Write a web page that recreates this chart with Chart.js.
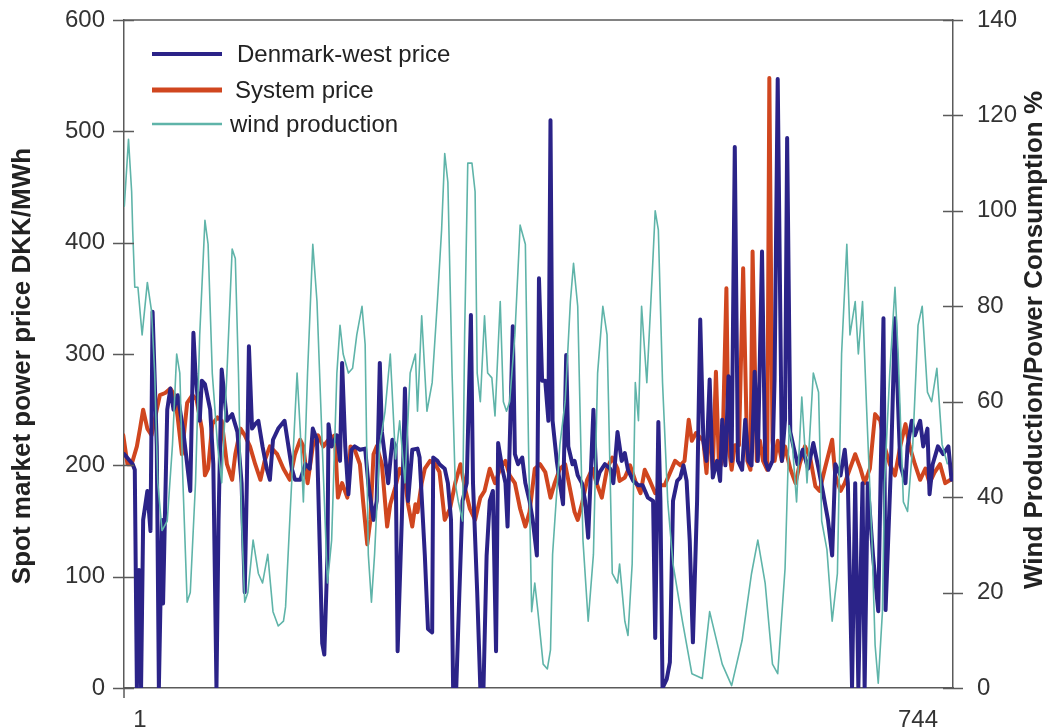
<!DOCTYPE html>
<html>
<head>
<meta charset="utf-8">
<title>Spot market price and wind production</title>
<script src="https://cdn.jsdelivr.net/npm/chart.js@4.4.1/dist/chart.umd.min.js"></script>
<style>
  html, body { margin: 0; padding: 0; background: #fff; }
  #wrap { width: 1048px; height: 727px; }
</style>
</head>
<body>
<div id="wrap"><canvas id="chart" width="1048" height="727"></canvas></div>
<script>
// ===== DATA (hour of month, value) =====
const xTickLabels = [1, 744];
const xMin = -14.3;
const xMax = 777.4;

// Denmark-west spot price, DKK/MWh
const dkWest = [
  [-14,210],[-6,201],[-4,196],[-2,0],[0,106],[2,0],[4,151],[8,177],[11,141],[13,338],
  [17,217],[19,0],[22,151],[23,76],[27,250],[30,269],[33,250],[37,263],[42,233],[46,201],
  [49,177],[52,319],[54,282],[58,240],[60,276],[63,273],[68,250],[71,201],[74,0],[76,151],
  [79,286],[84,240],[89,246],[94,230],[98,184],[101,86],[103,184],[105,307],[108,233],[111,237],
  [114,240],[118,217],[122,197],[125,187],[128,223],[133,233],[139,240],[146,197],[149,187],[154,187],
  [159,201],[163,197],[166,233],[170,223],[175,40],[177,30],[180,119],[181,237],[184,217],[189,227],
  [192,204],[194,292],[197,217],[200,174],[203,214],[206,217],[211,214],[216,215],[219,184],[224,151],
  [227,168],[230,292],[232,230],[235,207],[238,184],[242,223],[245,217],[247,33],[251,151],[254,269],
  [257,168],[261,214],[266,215],[268,207],[273,119],[276,53],[280,50],[281,207],[285,204],[287,201],
  [292,197],[295,184],[298,151],[300,0],[303,0],[306,86],[309,168],[313,184],[317,335],[319,184],
  [323,86],[326,0],[329,0],[332,119],[335,168],[338,177],[341,33],[343,220],[347,197],[350,184],
  [352,145],[357,325],[359,210],[362,201],[366,207],[369,184],[373,168],[376,151],[380,119],[382,368],
  [385,276],[388,276],[391,240],[393,510],[395,240],[399,204],[402,184],[405,165],[408,299],[410,217],
  [414,201],[416,204],[419,191],[423,184],[426,168],[429,135],[434,250],[437,184],[440,194],[445,201],
  [450,197],[453,184],[457,230],[461,204],[464,211],[467,196],[472,186],[477,182],[481,182],[486,171],
  [491,168],[493,45],[496,239],[498,168],[500,0],[504,8],[507,23],[510,168],[514,186],[517,189],
  [520,200],[523,186],[526,132],[529,41],[533,168],[536,331],[539,222],[542,204],[545,277],[548,189],
  [552,204],[555,186],[557,241],[560,200],[563,280],[566,204],[569,486],[572,204],[576,196],[579,241],
  [582,204],[585,200],[588,284],[591,204],[595,392],[598,204],[601,196],[605,204],[607,277],[610,547],
  [614,204],[617,241],[619,494],[622,230],[625,217],[629,201],[634,214],[639,197],[644,220],[649,197],
  [653,177],[658,151],[662,119],[665,201],[670,191],[674,214],[677,184],[681,0],[684,184],[687,0],
  [691,184],[693,0],[696,184],[701,119],[706,69],[711,332],[713,70],[718,196],[722,332],[727,201],
  [732,184],[734,217],[738,240],[741,227],[746,240],[749,217],[753,233],[755,174],[758,201],[763,217],
  [768,210],[773,217],[776,187]
];

// Nord Pool system price, DKK/MWh
const systemPrice = [
  [-15,227],[-11,201],[-7,201],[-2,217],[1,233],[4,250],[8,233],[12,227],[17,250],[20,263],
  [25,265],[30,269],[34,263],[37,243],[41,210],[46,256],[51,263],[55,259],[60,233],[63,191],
  [66,197],[70,237],[75,243],[79,240],[84,201],[89,187],[92,210],[97,233],[101,227],[106,217],
  [111,201],[116,187],[120,204],[125,217],[132,210],[138,197],[144,187],[149,210],[154,223],[157,217],
  [161,184],[166,217],[171,227],[176,217],[181,223],[187,227],[190,171],[194,184],[199,171],[202,217],
  [206,214],[211,201],[214,168],[218,129],[221,151],[224,210],[227,217],[232,201],[237,145],[240,165],
  [245,181],[249,197],[254,187],[257,165],[261,145],[264,165],[266,158],[270,184],[273,197],[278,204],
  [283,201],[287,194],[292,151],[297,161],[302,184],[307,201],[311,181],[316,161],[321,151],[326,171],
  [330,177],[335,197],[340,184],[345,197],[350,204],[354,191],[359,184],[364,161],[369,145],[373,158],
  [378,197],[383,201],[388,194],[393,171],[397,184],[402,197],[407,201],[412,177],[416,158],[419,151],
  [423,165],[428,187],[433,197],[437,184],[442,171],[447,197],[452,207],[457,197],[459,186],[464,189],
  [469,200],[474,186],[479,175],[483,196],[488,186],[493,175],[498,182],[502,182],[507,193],[512,204],
  [517,200],[521,204],[525,241],[528,222],[532,229],[536,225],[539,222],[542,193],[545,241],[548,196],
  [551,284],[554,196],[557,204],[561,359],[563,218],[566,196],[569,218],[573,218],[577,377],[581,204],
  [584,196],[586,392],[590,204],[593,222],[596,204],[600,196],[602,548],[605,222],[607,204],[610,222],
  [614,204],[617,217],[622,197],[627,184],[631,201],[636,217],[641,207],[646,181],[650,177],[655,197],
  [662,223],[665,191],[670,177],[674,184],[679,197],[684,210],[689,197],[693,184],[698,197],[703,246],
  [708,240],[712,217],[717,201],[722,191],[727,217],[732,237],[736,217],[741,201],[746,187],[751,197],
  [755,184],[760,194],[765,201],[770,184],[775,187]
];

// Wind production as % of power consumption
const windShare = [
  [-14,101],[-10,115],[-7,104],[-6,96],[-4,84],[-1,84],[3,74],[8,85],[12,79],[15,66],
  [18,43],[22,33],[27,35],[32,51],[36,70],[39,66],[42,43],[46,18],[49,20],[54,43],
  [58,74],[63,98],[66,93],[70,66],[75,51],[79,43],[84,66],[89,92],[92,90],[95,66],
  [98,35],[101,18],[104,20],[109,31],[114,24],[118,22],[123,28],[128,16],[133,13],[138,14],
  [140,17],[144,35],[151,66],[154,54],[157,39],[161,66],[166,93],[170,81],[175,51],[180,22],
  [184,31],[189,66],[192,76],[195,70],[200,66],[204,67],[208,74],[213,80],[216,72],[219,28],
  [222,18],[225,28],[230,51],[235,58],[240,70],[245,48],[249,56],[254,43],[259,66],[264,70],
  [266,58],[270,78],[275,58],[280,64],[285,81],[289,96],[292,112],[295,106],[299,66],[302,43],
  [305,39],[309,35],[311,74],[314,110],[318,110],[321,104],[323,66],[326,60],[330,78],[333,66],
  [337,65],[340,57],[345,81],[348,60],[351,58],[354,60],[359,74],[364,97],[369,93],[372,51],
  [375,16],[378,22],[381,16],[386,5],[390,4],[393,8],[395,28],[402,51],[407,60],[412,81],
  [415,89],[419,80],[424,31],[429,14],[434,28],[438,66],[443,80],[447,74],[452,24],[457,22],
  [459,26],[464,14],[467,11],[471,26],[474,64],[477,56],[480,80],[485,64],[490,86],[493,100],
  [496,96],[500,64],[505,39],[510,26],[519,14],[528,3],[538,2],[545,16],[557,5],[566,0.5],
  [576,10],[585,24],[591,31],[598,22],[605,5],[610,3],[617,25],[621,55],[624,51],[628,39],
  [633,61],[638,43],[644,66],[649,62],[652,35],[657,29],[662,14],[667,24],[671,70],[676,93],
  [679,74],[684,81],[687,70],[691,81],[695,58],[700,31],[703,9],[706,1],[710,16],[712,43],
  [717,66],[722,84],[725,70],[730,39],[734,37],[739,51],[744,76],[748,80],[753,62],[757,60],
  [762,67],[767,51],[772,47]
];

// ===== STYLE =====
const FONT = '"Liberation Sans", Arial, Helvetica, sans-serif';
const dkColor = '#2b2388';
const sysColor = '#d0461f';
const windColor = '#5fb4a9';
const axisColor = '#5a5a5a';
const textColor = '#333333';

const toPoints = rows => rows.map(r => ({ x: r[0], y: r[1] }));

// y axes: fixed width, no extra room above the top label
const fitY = width => scale => {
  scale.width = width;
  scale.paddingTop = 0;
  scale.paddingBottom = 0;
};

// frame, crossing tick marks, legend and axis titles
const decorations = {
  id: 'decorations',
  afterDraw(chart) {
    const { ctx, chartArea: a, scales } = chart;
    ctx.save();
    ctx.strokeStyle = axisColor;
    ctx.lineWidth = 1.5;
    ctx.beginPath();
    ctx.moveTo(a.left, a.top);
    ctx.lineTo(a.right, a.top);
    scales.y.ticks.forEach(t => {
      const y = Math.round(scales.y.getPixelForValue(t.value)) + 0.5;
      ctx.moveTo(a.left - 11, y);
      ctx.lineTo(a.left + 10, y);
    });
    scales.y1.ticks.forEach(t => {
      const y = Math.round(scales.y1.getPixelForValue(t.value)) + 0.5;
      ctx.moveTo(a.right - 10, y);
      ctx.lineTo(a.right + 10, y);
    });
    ctx.moveTo(a.left, a.bottom);
    ctx.lineTo(a.left, a.bottom + 10);
    ctx.stroke();

    // legend inside the plot
    const items = [
      { label: 'Denmark-west price', color: dkColor, width: 4, y: 54, tx: 237 },
      { label: 'System price', color: sysColor, width: 5, y: 90, tx: 235 },
      { label: 'wind production', color: windColor, width: 2.5, y: 124, tx: 230 }
    ];
    ctx.font = '24px ' + FONT;
    ctx.textBaseline = 'middle';
    ctx.textAlign = 'left';
    items.forEach(it => {
      ctx.strokeStyle = it.color;
      ctx.lineWidth = it.width;
      ctx.beginPath();
      ctx.moveTo(152, it.y);
      ctx.lineTo(222, it.y);
      ctx.stroke();
      ctx.fillStyle = '#222';
      ctx.fillText(it.label, it.tx, it.y + 1);
    });

    // axis titles, both read bottom to top
    ctx.font = 'bold 26px ' + FONT;
    ctx.fillStyle = '#222';
    ctx.textAlign = 'center';
    ctx.save();
    ctx.translate(23, 366);
    ctx.rotate(-Math.PI / 2);
    ctx.fillText('Spot market power price DKK/MWh', 0, 0);
    ctx.restore();
    ctx.save();
    ctx.translate(1035, 340);
    ctx.rotate(-Math.PI / 2);
    ctx.fillText('Wind Production/Power Consumption %', 0, 0);
    ctx.restore();
    ctx.restore();
  }
};

const ctx = document.getElementById('chart').getContext('2d');
new Chart(ctx, {
  type: 'line',
  data: {
    datasets: [
      {
        label: 'wind production',
        data: toPoints(windShare),
        yAxisID: 'y1',
        borderColor: windColor,
        borderWidth: 1.6,
        order: 0
      },
      {
        label: 'Denmark-west price',
        data: toPoints(dkWest),
        yAxisID: 'y',
        borderColor: dkColor,
        borderWidth: 4,
        order: 1
      },
      {
        label: 'System price',
        data: toPoints(systemPrice),
        yAxisID: 'y',
        borderColor: sysColor,
        borderWidth: 4,
        order: 2
      }
    ]
  },
  options: {
    responsive: false,
    animation: false,
    layout: { padding: { top: 20, left: 0, right: 0, bottom: 0 } },
    elements: {
      point: { radius: 0 },
      line: { tension: 0, borderJoinStyle: 'round', borderCapStyle: 'round', fill: false }
    },
    plugins: {
      legend: { display: false },
      tooltip: { enabled: false }
    },
    scales: {
      x: {
        type: 'linear',
        position: 'bottom',
        min: xMin,
        max: xMax,
        grid: { display: false, drawTicks: false },
        border: { display: true, color: axisColor, width: 1.5 },
        afterBuildTicks: scale => { scale.ticks = xTickLabels.map(v => ({ value: v })); },
        afterFit: scale => { scale.height = 39; },
        ticks: {
          autoSkip: false,
          maxRotation: 0,
          padding: 18,
          color: textColor,
          font: { family: FONT, size: 24 },
          callback: v => String(v)
        }
      },
      y: {
        position: 'left',
        min: 0,
        max: 600,
        grid: { display: false, drawTicks: false },
        border: { display: true, color: axisColor, width: 1.5 },
        afterFit: fitY(124),
        ticks: {
          stepSize: 100,
          padding: 19,
          color: textColor,
          font: { family: FONT, size: 24 }
        }
      },
      y1: {
        position: 'right',
        min: 0,
        max: 140,
        grid: { display: false, drawTicks: false },
        border: { display: true, color: axisColor, width: 1.5 },
        afterFit: fitY(95),
        ticks: {
          stepSize: 20,
          padding: 24,
          color: textColor,
          font: { family: FONT, size: 24 }
        }
      }
    }
  },
  plugins: [decorations]
});
</script>
</body>
</html>
